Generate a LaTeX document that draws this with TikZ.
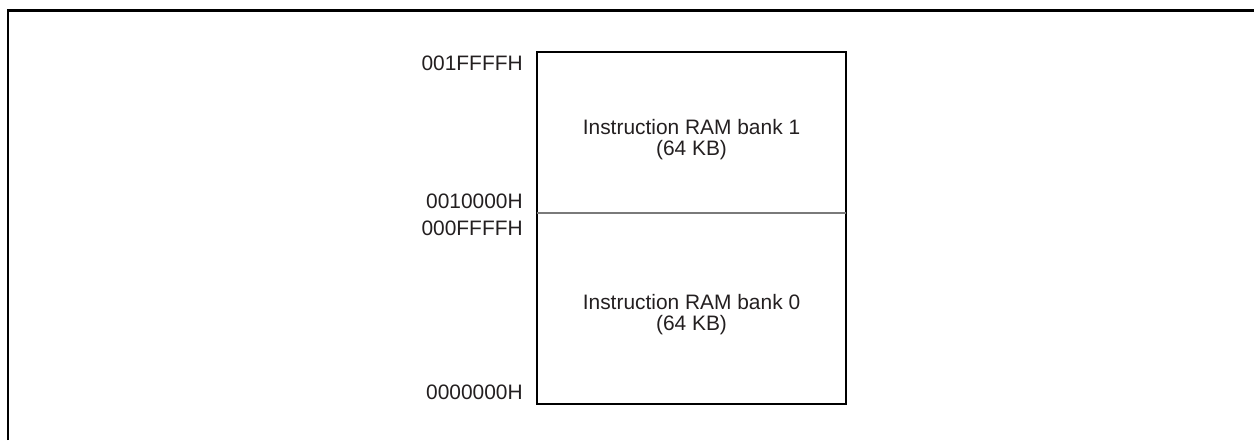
\documentclass[tikz,border=0pt]{standalone}
\usepackage{fontspec}
\setmainfont{Liberation Sans}
\usepackage{tikz}
\usetikzlibrary{positioning, calc}
\definecolor{inkgray}{HTML}{231F20}
\definecolor{rulegray}{HTML}{7A7A7A}

\begin{document}
\begin{tikzpicture}[font=\fontsize{11.9}{12.4}\selectfont, text=inkgray,
    addr/.style={anchor=base east, inner sep=0pt},
    bankbox/.style={minimum width=6.18cm, inner sep=0pt, outer sep=0pt},
    banktext/.style={align=center, inner sep=0pt}]
    \useasboundingbox (0,0) rectangle (25.08,8.8);
    % frame
    \draw[line width=1.4pt] (0.16,0) |- (25.08,8.59);

    % memory map
    \node[bankbox, minimum height=3.22cm] (b1) at (13.83,6.15) {};
    \node[bankbox, minimum height=3.82cm, below=0pt of b1] (b0) {};
    \draw[line width=1.3pt] (b1.north west) rectangle (b0.south east);
    \draw[rulegray, line width=0.6pt] (b1.south west) -- (b1.south east);

    \node[banktext, yshift=-0.14cm] (t1) at (b1.center) {Instruction RAM bank 1\\(64 KB)};
    \node[banktext, yshift=-0.12cm] (t0) at (b0.center) {Instruction RAM bank 0\\(64 KB)};

    % addresses
    \node[addr] (a3) at (10.46,7.386) {001FFFFH};
    \node[addr] (a2) at (10.46,4.62) {0010000H};
    \node[addr] (a1) at (10.46,4.086) {000FFFFH};
    \node[addr] (a0) at (10.46,0.82) {0000000H};
\end{tikzpicture}
\end{document}
